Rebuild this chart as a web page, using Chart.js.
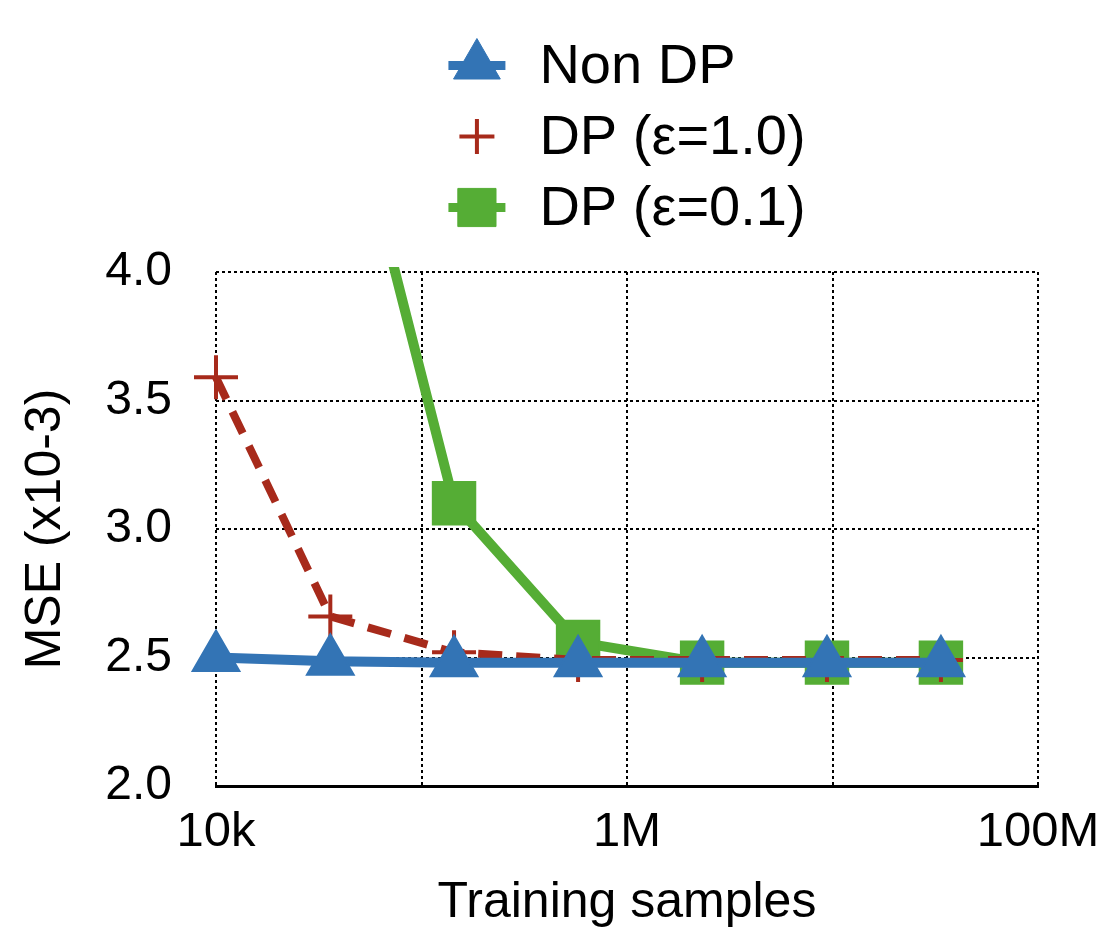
<!DOCTYPE html>
<html>
<head>
<meta charset="utf-8">
<script src="https://cdn.jsdelivr.net/npm/chart.js@4/dist/chart.umd.min.js"></script>
<style>
  html, body { margin: 0; padding: 0; background: #fff; }
  #wrap { width: 1097px; height: 928px; }
</style>
</head>
<body>
<div id="wrap"><canvas id="mse-chart"></canvas></div>
<script>
// training set sizes (x axis, log scale)
const samples = [10000, 36000, 144000, 578000, 2320000, 9400000, 33700000];

// MSE values (x10-3) per series
const mseNonDP = [2.50, 2.485, 2.48, 2.48, 2.48, 2.48, 2.48];
const mseDP1 = [3.59, 2.66, 2.52, 2.49, 2.49, 2.49, 2.49];
const mseDP01 = [null, 4.99, 3.10, 2.56, 2.48, 2.48, 2.48];

// axis ticks
const xGridTicks = [1e4, 1e5, 1e6, 1e7, 1e8];
const xTickLabels = {10000: "10k", 1000000: "1M", 100000000: "100M"};
const yTicks = [2.0, 2.5, 3.0, 3.5, 4.0];

const FONT = '"Liberation Sans", Arial, Helvetica, sans-serif';

function toPoints(values) {
  return samples.map((s, i) => ({x: s, y: values[i]}));
}

// legend stacked in one column above the plot, like the original figure
const stackedLegend = {
  id: 'stackedLegend',
  afterDraw(chart) {
    const ctx = chart.ctx;
    const area = chart.chartArea;
    ctx.save();
    ctx.font = '56px ' + FONT;
    const sets = chart.data.datasets;
    const textW = Math.max(...sets.map(d => ctx.measureText(d.label).width));
    const symW = 57, gap = 34, rowH = 71;
    const x0 = (area.left + area.right) / 2 - (symW + gap + textW) / 2;
    const y0 = 65.5;
    sets.forEach((ds, i) => {
      const cy = y0 + i * rowH;
      ctx.strokeStyle = ds.borderColor;
      ctx.fillStyle = ds.borderColor;
      ctx.setLineDash([]);
      if (ds.legendLine) {
        ctx.lineWidth = 9;
        ctx.beginPath();
        ctx.moveTo(x0, cy);
        ctx.lineTo(x0 + symW, cy);
        ctx.stroke();
      }
      ctx.lineWidth = ds.legendMarker.borderWidth;
      Chart.helpers.drawPoint(ctx, {
        pointStyle: ds.pointStyle,
        radius: ds.legendMarker.radius,
        rotation: 0,
        borderWidth: ds.legendMarker.borderWidth
      }, x0 + symW / 2, cy);
      ctx.fillStyle = '#000';
      ctx.textAlign = 'left';
      ctx.textBaseline = 'middle';
      ctx.fillText(ds.label, x0 + symW + gap, cy + 2);
    });
    ctx.restore();
  }
};

new Chart(document.getElementById('mse-chart'), {
  type: 'line',
  data: {
    datasets: [{
        label: 'Non DP',
        data: toPoints(mseNonDP),
        borderColor: '#3374b5',
        backgroundColor: '#3374b5',
        borderWidth: 10,
        pointStyle: 'triangle',
        pointRadius: 27,
        pointBorderWidth: 2,
        pointBackgroundColor: '#3374b5',
        legendLine: true,
        legendMarker: {radius: 27, borderWidth: 1},
        clip: {left: false, right: false, top: 5, bottom: false}
      }, {
        label: 'DP (ε=1.0)',
        data: toPoints(mseDP1),
        borderColor: '#a72a1b',
        backgroundColor: '#a72a1b',
        borderWidth: 8,
        borderDash: [24, 14],
        pointStyle: 'cross',
        pointRadius: 22,
        pointBorderWidth: 4,
        legendLine: false,
        legendMarker: {radius: 17.5, borderWidth: 4},
        clip: {left: false, right: false, top: 5, bottom: false}
      }, {
        label: 'DP (ε=0.1)',
        data: toPoints(mseDP01),
        borderColor: '#55ad35',
        backgroundColor: '#55ad35',
        borderWidth: 10,
        pointStyle: 'rect',
        pointRadius: 30,
        pointBorderWidth: 2,
        pointBackgroundColor: '#55ad35',
        legendLine: true,
        legendMarker: {radius: 27, borderWidth: 1},
        clip: {left: false, right: false, top: 5, bottom: false}
      }
    ]
  },
  options: {
    responsive: true,
    maintainAspectRatio: false,
    animation: false,
    layout: {padding: {top: 272, right: 59, bottom: 0, left: 0}},
    plugins: {
      legend: {display: false},
      tooltip: {enabled: false}
    },
    scales: {
      x: {
        type: 'logarithmic',
        min: 1e4,
        max: 1e8,
        afterBuildTicks: s => { s.ticks = xGridTicks.map(v => ({value: v})); },
        afterFit: s => {
          s.height = 142;
          s.paddingLeft = 0;
          s.paddingRight = 59;
        },
        ticks: {
          autoSkip: false,
          maxRotation: 0,
          padding: 17,
          color: '#000',
          font: {family: FONT, size: 49},
          callback: v => xTickLabels[v] || ''
        },
        grid: {color: '#000', lineWidth: 2, drawTicks: false},
        border: {display: true, color: '#000', width: 3, dash: [3, 3]},
        title: {
          display: true,
          text: 'Training samples',
          color: '#000',
          font: {family: FONT, size: 50},
          padding: {top: 0, bottom: -5}
        }
      },
      y: {
        min: 2,
        max: 4,
        afterBuildTicks: s => { s.ticks = yTicks.map(v => ({value: v})); },
        afterFit: s => { s.width = 216; },
        ticks: {
          padding: 44,
          color: '#000',
          font: {family: FONT, size: 48},
          callback: v => v.toFixed(1)
        },
        grid: {color: '#000', lineWidth: 2, drawTicks: false},
        border: {display: false, dash: [3, 3]},
        title: {
          display: true,
          text: 'MSE (x10-3)',
          color: '#000',
          font: {family: FONT, size: 50},
          padding: {top: 16, bottom: 0}
        }
      }
    }
  },
  plugins: [stackedLegend]
});
</script>
</body>
</html>
